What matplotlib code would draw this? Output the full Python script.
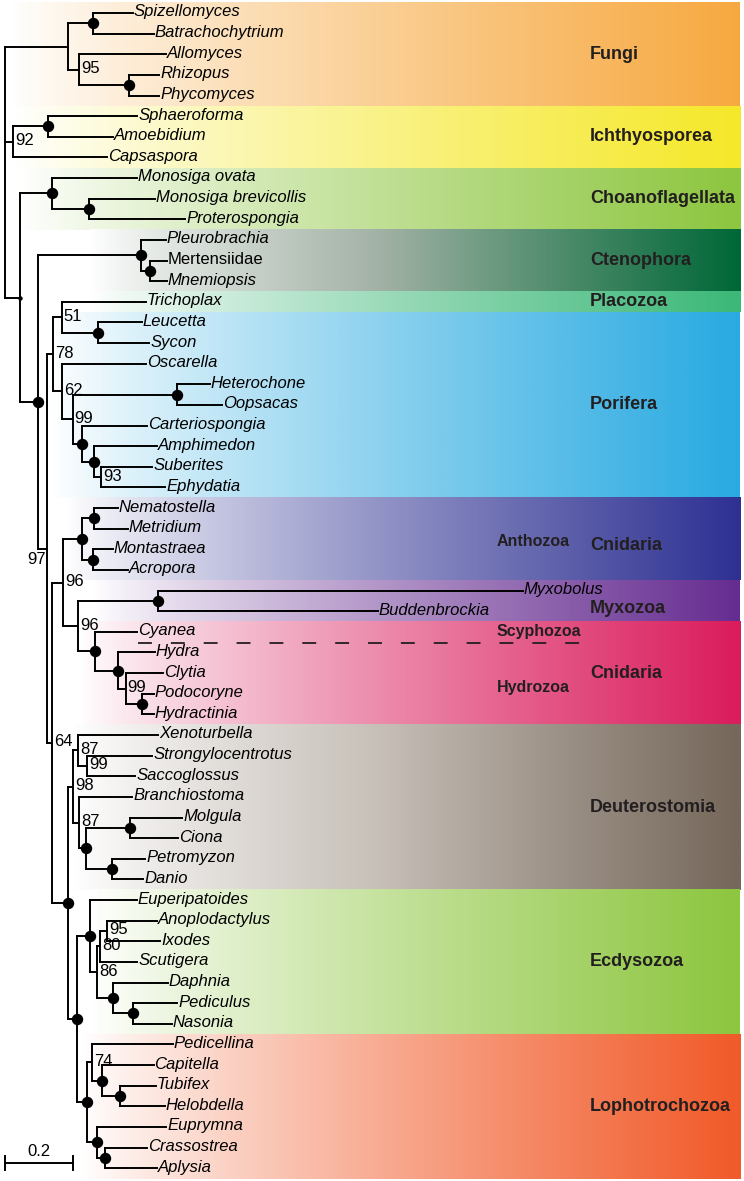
import matplotlib
matplotlib.use("Agg")
import matplotlib.pyplot as plt
import matplotlib.colors as mcolors
import numpy as np
from matplotlib.collections import LineCollection

# ---- tree: internal nodes (parent listed before child) ----
# support: "*" = full support (black dot), "" = none, "r" = root mark
node_names = ["root", "fungi", "chytrid", "f95", "mucor", "ichthyo", "ichA",
              "X", "choano", "choB", "metazoa", "cteno", "ctB", "n97", "n78",
              "n51", "calc", "n62", "n99a", "hexa", "demo", "demB", "n93",
              "n64", "n96a", "antho", "anA", "anB", "n96b", "myxo", "medusa",
              "hydro", "n99b", "hydA", "bilat", "n98", "n87a", "n99c", "n87b",
              "olfact", "tunic", "vert", "proto", "ecdy", "n86", "n80", "n95b",
              "pancr", "insect", "lopho", "n74", "annel", "clitel", "moll",
              "mollB"]
node_parent = [None, "root", "fungi", "fungi", "f95", "root", "ichthyo",
               "root", "X", "choano", "X", "metazoa", "cteno", "metazoa", "n97",
               "n78", "n51", "n78", "n62", "n99a", "n99a", "demo", "demB",
               "n97", "n64", "n96a", "antho", "antho", "n96a", "n96b", "n96b",
               "medusa", "hydro", "n99b", "n64", "bilat", "n98", "n87a", "n98",
               "n87b", "olfact", "olfact", "bilat", "proto", "ecdy", "n86", "n80",
               "n86", "pancr", "proto", "lopho", "n74", "annel", "lopho",
               "moll"]
node_length = [0.0, 0.186, 0.073, 0.032, 0.147, 0.025, 0.103,
               0.045, 0.094, 0.109, 0.053, 0.302, 0.026, 0.026, 0.018,
               0.026, 0.106, 0.026, 0.032, 0.305, 0.026, 0.035, 0.023,
               0.015, 0.032, 0.056, 0.035, 0.032, 0.044, 0.235, 0.050,
               0.067, 0.023, 0.047, 0.047, 0.015, 0.015, 0.026, 0.018,
               0.021, 0.129, 0.076, 0.026, 0.038, 0.021, 0.009, 0.021,
               0.047, 0.059, 0.029, 0.015, 0.029, 0.053, 0.029,
               0.026]
node_support = ["", "", "*", "95", "*", "92", "*",
                "r", "*", "*", "*", "*", "*", "97", "78",
                "51", "*", "62", "99", "*", "*", "*", "93",
                "64", "96", "*", "*", "*", "96", "*", "*",
                "*", "99", "*", "*", "98", "87", "99", "87",
                "*", "*", "*", "*", "*", "86", "80", "95",
                "*", "*", "*", "74", "*", "*", "*",
                "*"]

# ---- leaves, top to bottom ----
leaf_names = ["Spizellomyces", "Batrachochytrium", "Allomyces", "Rhizopus",
              "Phycomyces", "Sphaeroforma", "Amoebidium", "Capsaspora",
              "Monosiga ovata", "Monosiga brevicollis", "Proterospongia",
              "Pleurobrachia", "Mertensiidae", "Mnemiopsis", "Trichoplax",
              "Leucetta", "Sycon", "Oscarella", "Heterochone", "Oopsacas",
              "Carteriospongia", "Amphimedon", "Suberites", "Ephydatia",
              "Nematostella", "Metridium", "Montastraea", "Acropora",
              "Myxobolus", "Buddenbrockia", "Cyanea", "Hydra", "Clytia",
              "Podocoryne", "Hydractinia", "Xenoturbella", "Strongylocentrotus",
              "Saccoglossus", "Branchiostoma", "Molgula", "Ciona", "Petromyzon",
              "Danio", "Euperipatoides", "Anoplodactylus", "Ixodes", "Scutigera",
              "Daphnia", "Pediculus", "Nasonia", "Pedicellina", "Capitella",
              "Tubifex", "Helobdella", "Euprymna", "Crassostrea", "Aplysia"]
leaf_parent = ["chytrid", "chytrid", "f95", "mucor", "mucor", "ichA", "ichA",
               "ichthyo", "choano", "choB", "choB", "cteno", "ctB", "ctB",
               "n51", "calc", "calc", "n62", "hexa", "hexa", "demo", "demB",
               "n93", "n93", "anA", "anA", "anB", "anB", "myxo", "myxo",
               "medusa", "hydro", "n99b", "hydA", "hydA", "n87a", "n99c",
               "n99c", "n87b", "tunic", "tunic", "vert", "vert", "ecdy",
               "n95b", "n95b", "n80", "pancr", "insect", "insect", "n74",
               "annel", "clitel", "clitel", "moll", "mollB", "mollB"]
leaf_length = [0.117, 0.179, 0.255, 0.088, 0.088, 0.261, 0.191, 0.276,
               0.249, 0.194, 0.282, 0.073, 0.050, 0.050, 0.246, 0.129,
               0.150, 0.246, 0.097, 0.132, 0.191, 0.185, 0.150, 0.188,
               0.070, 0.100, 0.059, 0.103, 1.070, 0.645, 0.123, 0.109,
               0.109, 0.035, 0.035, 0.235, 0.191, 0.141, 0.155, 0.152,
               0.141, 0.097, 0.091, 0.138, 0.147, 0.155, 0.109, 0.161,
               0.129, 0.114, 0.238, 0.152, 0.106, 0.132, 0.205, 0.123,
               0.152]
upright = ["Mertensiidae"]

# ---- clade bands ----
group_names = ["Fungi", "Ichthyosporea", "Choanoflagellata", "Ctenophora",
               "Placozoa", "Porifera", "Cnidaria", "Myxozoa", "Cnidaria",
               "Deuterostomia", "Ecdysozoa", "Lophotrochozoa"]
group_first = ["Spizellomyces", "Sphaeroforma", "Monosiga ovata",
               "Pleurobrachia", "Trichoplax", "Leucetta", "Nematostella",
               "Myxobolus", "Cyanea", "Xenoturbella", "Euperipatoides",
               "Pedicellina"]
group_last = ["Phycomyces", "Capsaspora", "Proterospongia", "Mnemiopsis",
              "Trichoplax", "Ephydatia", "Acropora", "Buddenbrockia",
              "Hydractinia", "Danio", "Nasonia", "Aplysia"]

sub_names = ["Anthozoa", "Scyphozoa", "Hydrozoa"]

# ---- styling ----
group_colors = ["#f7a941", "#f5e82a", "#8dc63f", "#006837", "#3cb878",
                "#29aae1", "#2e3192", "#662d91", "#da1c5c", "#75675a",
                "#8dc63f", "#f15a29"]
group_mid = [None, None, None, "#a3b2a6", None, None, None, None, None,
             "#c9c2bb", None, None]
group_start = [0.02, 0.03, 0.05, 0.25, 0.25, 0.14, 0.18, 0.26, 0.22, 0.2,
               0.26, 0.23]
group_label_shift = [0, 0, 0, 0, 0, 0, 0.3, 0.38, 0, 0, 0, 0]
sub_rows = [25.6, 30.0, 32.7]

# ---- layout ----
children = {n: [] for n in node_names}
for n, p in zip(node_names, node_parent):
    if p:
        children[p].append(n)
for n, p in zip(leaf_names, leaf_parent):
    children[p].append(n)

depth = {}
for n, p, l in zip(node_names, node_parent, node_length):
    depth[n] = (depth[p] if p else 0.0) + l
for n, p, l in zip(leaf_names, leaf_parent, leaf_length):
    depth[n] = depth[p] + l

ypos = {n: float(i) for i, n in enumerate(leaf_names)}


def place(n):
    if n not in ypos:
        ys = [place(c) for c in children[n]]
        ypos[n] = (min(ys) + max(ys)) / 2
    return ypos[n]


place("root")

XMIN, XMAX = -0.0132, 2.1686
YTOP, YBOT = -0.63, 56.62
BAND_END = 2.157

plt.rcParams["font.family"] = ["Liberation Sans", "DejaVu Sans"]
fig = plt.figure(figsize=(7.44, 11.81), dpi=100)
ax = fig.add_axes([0, 0, 1, 1])
ax.set_axis_off()

# gradient bands (white -> clade colour)
t = np.linspace(0, 1, 400) ** 0.85
for a, b, col, mid, x0 in zip(group_first, group_last, group_colors,
                              group_mid, group_start):
    if mid is None:
        cmap = mcolors.LinearSegmentedColormap.from_list("g", ["white", col])
    else:
        cmap = mcolors.LinearSegmentedColormap.from_list(
            "g", [(0, "white"), (0.5, mid), (1, col)])
    img = cmap(t)[None, :, :3]
    ax.imshow(img, extent=(x0, BAND_END, ypos[b] + 0.5, ypos[a] - 0.5),
              aspect="auto", interpolation="bilinear", zorder=0)

segs = []
for n, p in zip(node_names + leaf_names, node_parent + leaf_parent):
    if p:
        segs.append([(depth[p], ypos[n]), (depth[n], ypos[n])])
for n in node_names:
    ys = [ypos[c] for c in children[n]]
    segs.append([(depth[n], min(ys)), (depth[n], max(ys))])
ax.add_collection(LineCollection(segs, colors="black", linewidths=1.4,
                                 capstyle="projecting", zorder=2))

for n, s in zip(node_names, node_support):
    if s == "*":
        ax.plot(depth[n], ypos[n], "o", color="black", ms=7.2, zorder=3)
    elif s == "r":
        ax.plot(depth[n], ypos[n], "o", color="black", ms=2.2, zorder=3)
    elif s == "97":
        ax.text(depth[n] - 0.003, ypos[n] + 0.55, s, ha="right", va="center",
                fontsize=12, zorder=4)
    elif s:
        ax.text(depth[n] + 0.006, ypos[n] - 0.05, s, ha="left", va="center",
                fontsize=12, zorder=4)

for n in leaf_names:
    ax.text(depth[n] + 0.003, ypos[n] - 0.05, n, ha="left", va="center",
            fontsize=12, style="normal" if n in upright else "italic",
            zorder=4)

for name, a, b, dy in zip(group_names, group_first, group_last,
                          group_label_shift):
    yc = (ypos[a] + ypos[b]) / 2 + dy
    ax.text(1.717, yc, name, ha="left", va="center", fontsize=13,
            fontweight="bold", color="#231f20", zorder=4)
for name, r in zip(sub_names, sub_rows):
    ax.text(1.444, r, name, ha="left", va="center", fontsize=11.5,
            fontweight="bold", color="#231f20", zorder=4)

# Scyphozoa / Hydrozoa divider
ax.plot([0.391, 1.737], [30.55, 30.55], color="#231f20", lw=1.3,
        dashes=(7.7, 10.5), zorder=2)

# scale bar
sb_y = 55.74
ax.plot([0.0015, 0.2015], [sb_y, sb_y], color="black", lw=1.4)
for xx in (0.0015, 0.2015):
    ax.plot([xx, xx], [sb_y - 0.34, sb_y + 0.34], color="black", lw=1.4)
ax.text(0.1015, sb_y - 0.2, "0.2", ha="center", va="bottom", fontsize=12)

ax.set_xlim(XMIN, XMAX)
ax.set_ylim(YBOT, YTOP)
fig.savefig("out.png", dpi=100)
